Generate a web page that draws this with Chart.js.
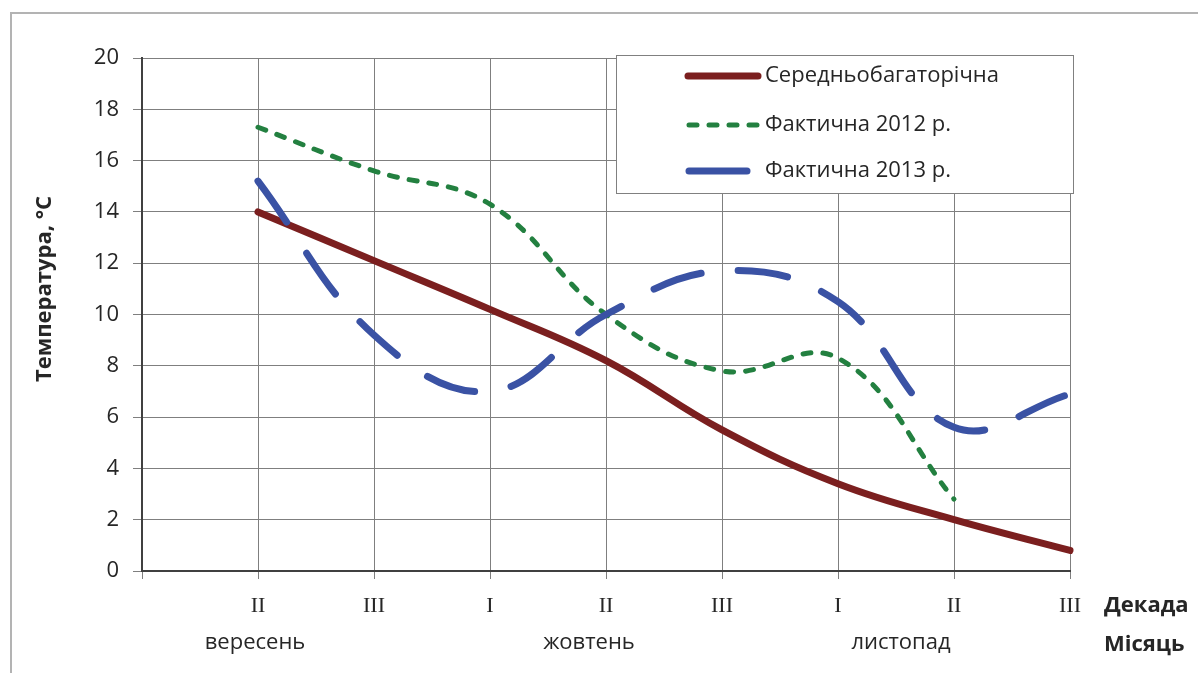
<!DOCTYPE html>
<html><head><meta charset="utf-8">
<script src="https://cdn.jsdelivr.net/npm/chart.js@4"></script>
<style>html,body{margin:0;padding:0;background:#fff;overflow:hidden}</style>
</head><body>
<canvas id="c" width="1198" height="673" style="display:block;width:1198px;height:673px"></canvas>
<script>
const decades = ['', 'II', 'III', 'I', 'II', 'III', 'I', 'II', 'III'];
const months = ['вересень', 'жовтень', 'листопад'];
const longTerm = [null, 14.0, 12.1, 10.2, 8.2, 5.5, 3.4, 2.0, 0.8];
const actual2012 = [null, 17.3, 15.6, 14.3, 10.0, 7.8, 8.3, 2.8, null];
const actual2013 = [null, 15.2, 9.2, 7.0, 10.0, 11.7, 10.5, 5.6, 6.9];
const seriesNames = ['Середньобагаторічна', 'Фактична 2012 р.', 'Фактична 2013 р.'];
const yTitle = 'Температура, °С';
const decadeTitle = 'Декада';
const monthTitle = 'Місяць';

const SANS = '"Open Sans", "Noto Sans", sans-serif';
const SERIF = '"Liberation Serif", "DejaVu Serif", serif';
const TXT = '#262626';

const extras = {
  id: 'extras',
  afterDraw(chart) {
    const ctx = chart.ctx;
    ctx.save();
    // outer frame
    ctx.strokeStyle = '#b3b3b3';
    ctx.lineWidth = 2;
    ctx.beginPath();
    ctx.moveTo(11, 673); ctx.lineTo(11, 13); ctx.lineTo(1198, 13);
    ctx.stroke();
    // y title
    ctx.fillStyle = TXT;
    ctx.font = 'bold 22px ' + SANS;
    ctx.textAlign = 'center';
    ctx.textBaseline = 'middle';
    ctx.save();
    ctx.translate(45, 289);
    ctx.rotate(-Math.PI / 2);
    ctx.fillText(yTitle, 0, 0);
    ctx.restore();
    // decade / month titles
    ctx.textAlign = 'left';
    ctx.fillText(decadeTitle, 1104, 606);
    ctx.fillText(monthTitle, 1104, 645);
    // month labels
    ctx.font = '22px ' + SANS;
    ctx.textAlign = 'center';
    const mx = [255, 589, 901];
    months.forEach((m, i) => ctx.fillText(m, mx[i], 643));
    // legend box
    ctx.fillStyle = '#fff';
    ctx.fillRect(616, 55, 457, 138);
    ctx.strokeStyle = '#808080';
    ctx.lineWidth = 1;
    ctx.strokeRect(616.5, 55.5, 457, 138);
    const rows = [76, 125, 171];
    const lens = [[688, 758], [689, 758], [689, 747]];
    chart.data.datasets.forEach((ds, i) => {
      ctx.save();
      ctx.strokeStyle = ds.borderColor;
      ctx.lineWidth = ds.borderWidth;
      ctx.lineCap = 'round';
      ctx.setLineDash(i === 2 ? [] : (ds.borderDash || []));
      ctx.beginPath();
      ctx.moveTo(lens[i][0], rows[i]);
      ctx.lineTo(lens[i][1], rows[i]);
      ctx.stroke();
      ctx.restore();
      ctx.fillStyle = TXT;
      ctx.font = '22px ' + SANS;
      ctx.textAlign = 'left';
      ctx.textBaseline = 'middle';
      ctx.fillText(ds.label, 765, rows[i]);
    });
    ctx.restore();
  }
};

new Chart(document.getElementById('c'), {
  type: 'line',
  data: {
    labels: decades,
    datasets: [
      { label: seriesNames[0], data: longTerm, borderColor: '#7b1f1f', borderWidth: 7,
        borderCapStyle: 'round', tension: 0.4, pointRadius: 0, order: 3, clip: 6 },
      { label: seriesNames[1], data: actual2012, borderColor: '#238040', borderWidth: 5,
        borderDash: [8, 12], borderCapStyle: 'round', tension: 0.4, pointRadius: 0, order: 2, clip: 6 },
      { label: seriesNames[2], data: actual2013, borderColor: '#3a52a4', borderWidth: 7,
        borderDash: [50, 37], borderCapStyle: 'round', tension: 0.4, pointRadius: 0, order: 1, clip: 6 }
    ]
  },
  options: {
    responsive: false,
    animation: false,
    devicePixelRatio: 1,
    layout: { padding: { top: 58, right: 128, left: 0, bottom: 0 } },
    plugins: { legend: { display: false }, tooltip: { enabled: false }, title: { display: false } },
    scales: {
      x: {
        type: 'category',
        offset: false,
        afterFit(s) { s.height = 102; },
        grid: { color: '#7f7f7f', lineWidth: 1, tickLength: 8, offset: false },
        border: { color: '#404040', width: 2 },
        ticks: { font: { family: SERIF, size: 22 }, color: TXT, padding: 14, autoSkip: false, maxRotation: 0 }
      },
      y: {
        min: 0, max: 20,
        afterFit(s) { s.width = 142; },
        grid: { color: '#7f7f7f', lineWidth: 1, tickLength: 9 },
        border: { color: '#404040', width: 2 },
        ticks: { stepSize: 2, font: { family: SANS, size: 22 }, color: TXT, padding: 14 }
      }
    }
  },
  plugins: [extras]
});
</script>
</body></html>
